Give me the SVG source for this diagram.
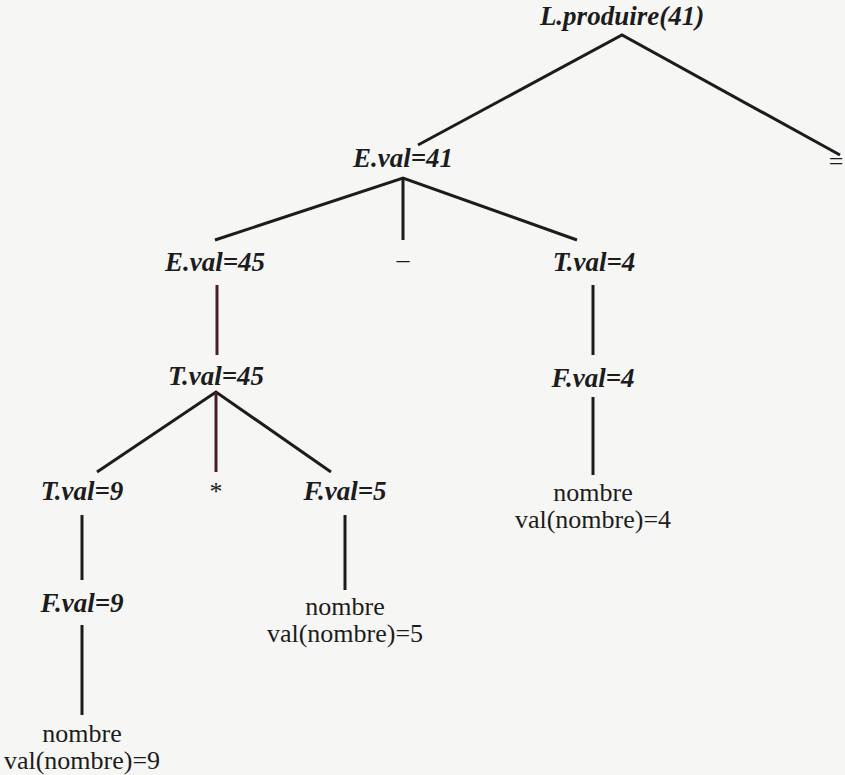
<svg xmlns="http://www.w3.org/2000/svg" width="845" height="775" viewBox="0 0 845 775">
  <style>
    text { font-family: "Liberation Serif", "DejaVu Serif", "Times New Roman", serif; fill: #1c1c1c; text-anchor: middle; }
    .nt { font-size: 27px; font-weight: bold; font-style: italic; }
    .t { font-size: 26px; }
    .edge { stroke: #1c1c1c; stroke-width: 3; fill: none; stroke-linecap: butt; }
    .edge.red { stroke: #4a1e24; }
  </style>
  <rect width="845" height="775" fill="#f6f6f4"/>

  <!-- tree edges -->
  <g id="connectors">
    <polyline class="edge" points="418,145 622,35 840,155"/>
    <polyline class="edge" points="215,240 403,178 577,240"/>
    <line class="edge" x1="403" y1="178" x2="403" y2="240"/>
    <line class="edge red" x1="217" y1="285" x2="217" y2="355"/>
    <polyline class="edge" points="97,472 216,392 331,472"/>
    <line class="edge red" x1="216" y1="392" x2="216" y2="472"/>
    <line class="edge" x1="82" y1="515" x2="82" y2="580"/>
    <line class="edge" x1="82" y1="625" x2="82" y2="715"/>
    <line class="edge" x1="345" y1="515" x2="345" y2="590"/>
    <line class="edge" x1="593" y1="285" x2="593" y2="355"/>
    <line class="edge" x1="593" y1="397" x2="593" y2="475"/>
  </g>

  <g id="n-L"><text class="nt" x="622" y="25">L.produire(41)</text></g>
  <g id="n-eq"><text class="t" x="836" y="170">=</text></g>
  <g id="n-E41"><text class="nt" x="403" y="167">E.val=41</text></g>
  <g id="n-E45"><text class="nt" x="215" y="271">E.val=45</text></g>
  <g id="n-minus"><text class="t" x="403" y="268">–</text></g>
  <g id="n-T4"><text class="nt" x="594" y="271">T.val=4</text></g>
  <g id="n-T45"><text class="nt" x="216" y="385">T.val=45</text></g>
  <g id="n-F4"><text class="nt" x="593" y="387">F.val=4</text></g>
  <g id="n-T9"><text class="nt" x="82" y="500">T.val=9</text></g>
  <g id="n-star"><text class="t" x="216" y="500">*</text></g>
  <g id="n-F5"><text class="nt" x="345" y="500">F.val=5</text></g>
  <g id="n-nb4">
    <text class="t" x="593" y="501">nombre</text>
    <text class="t" x="593" y="528">val(nombre)=4</text>
  </g>
  <g id="n-F9"><text class="nt" x="82" y="612">F.val=9</text></g>
  <g id="n-nb5">
    <text class="t" x="345" y="615">nombre</text>
    <text class="t" x="345" y="642">val(nombre)=5</text>
  </g>
  <g id="n-nb9">
    <text class="t" x="82" y="742">nombre</text>
    <text class="t" x="82" y="769">val(nombre)=9</text>
  </g>
</svg>
